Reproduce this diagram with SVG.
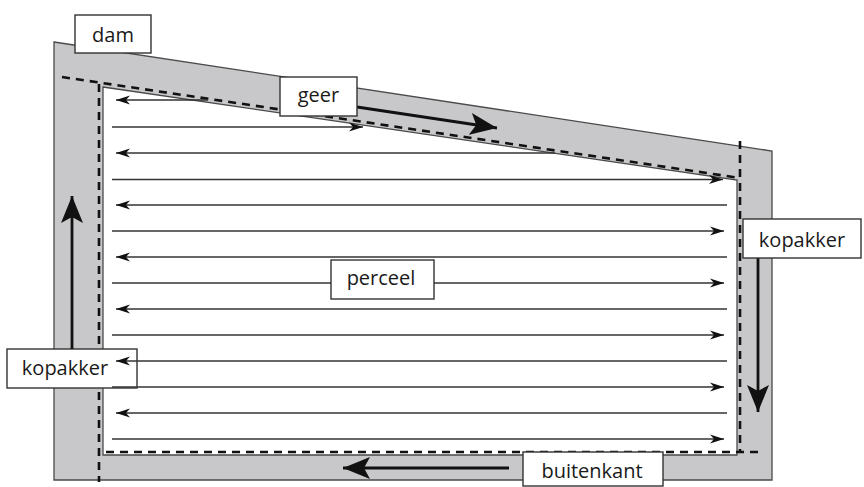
<svg xmlns="http://www.w3.org/2000/svg" width="864" height="487" viewBox="0 0 864 487">
<style>
.band{fill:#c8c8ca;stroke:#4a4a4a;stroke-width:1.3}
.inner{fill:#fff;stroke:#4a4a4a;stroke-width:1.3}
.dash{fill:none;stroke:#111;stroke-width:2.6;stroke-dasharray:8 6}
.row{fill:none;stroke:#333;stroke-width:1.3;marker-end:url(#sm)}
.thick{fill:none;stroke:#111;stroke-width:2.8;marker-end:url(#big)}
.box{fill:#fff;stroke:#333;stroke-width:1.4}
.lbl{font-family:"Open Sans","Liberation Sans",sans-serif;font-size:20px;fill:#1a1a1a;text-anchor:middle}
</style>
<defs>
<marker id="sm" markerUnits="userSpaceOnUse" viewBox="0 0 15 10" markerWidth="15" markerHeight="10" refX="14" refY="5" orient="auto"><path d="M0,0.4 L14,5 L0,9.6 L4,5 z" fill="#111"/></marker>
<marker id="big" markerUnits="userSpaceOnUse" viewBox="0 0 28 22" markerWidth="28" markerHeight="22" refX="27" refY="11" orient="auto"><path d="M0,0 L27,11 L0,22 L6,11 z" fill="#111"/></marker>
</defs>
<g id="field">
<polygon class="band" points="54,42 772,151 772,480 54,480"/>
<polygon class="inner" points="103,87 737,180 737,455 103,455"/>
<path class="dash" d="M62,77 L740,178"/>
<path class="dash" d="M99,84 L99,482"/>
<path class="dash" d="M740,141 L740,452"/>
<path class="dash" d="M106,452 L764,452"/>
</g>
<g id="kopakker-links">
<rect class="box" x="7" y="349" width="130" height="39"/>
<text class="lbl" x="65" y="375">kopakker</text>
</g>
<g id="connectors">
<path class="row" d="M208,100 L116,100"/>
<path class="row" d="M112,127 L363,127"/>
<path class="row" d="M555,153 L116,153"/>
<path class="row" d="M112,179.5 L723,179.5"/>
<path class="row" d="M727,205 L116,205"/>
<path class="row" d="M112,231 L724,231"/>
<path class="row" d="M727,257 L116,257"/>
<path class="row" d="M112,283 L724,283"/>
<path class="row" d="M727,309 L116,309"/>
<path class="row" d="M112,335 L724,335"/>
<path class="row" d="M727,361 L116,361"/>
<path class="row" d="M112,387 L724,387"/>
<path class="row" d="M727,413 L116,413"/>
<path class="row" d="M112,439 L724,439"/>
<path class="thick" d="M357,107 L497,128"/>
<path class="thick" d="M758,258 L758,412"/>
<path class="thick" d="M509,468 L343,468"/>
<path class="thick" d="M72,349 L72,196"/>
</g>
<g id="dam">
<rect class="box" x="75" y="15" width="76" height="38"/>
<text class="lbl" x="113" y="42">dam</text>
</g>
<g id="geer">
<rect class="box" x="280" y="77" width="77" height="39"/>
<text class="lbl" x="318.5" y="102">geer</text>
</g>
<g id="perceel">
<rect class="box" x="331" y="260" width="103" height="39"/>
<text class="lbl" x="381" y="285">perceel</text>
</g>
<g id="kopakker-rechts">
<rect class="box" x="743" y="219" width="118" height="39"/>
<text class="lbl" x="802" y="247">kopakker</text>
</g>
<g id="buitenkant">
<rect class="box" x="523" y="452" width="140" height="34"/>
<text class="lbl" x="592" y="478">buitenkant</text>
</g>
</svg>
